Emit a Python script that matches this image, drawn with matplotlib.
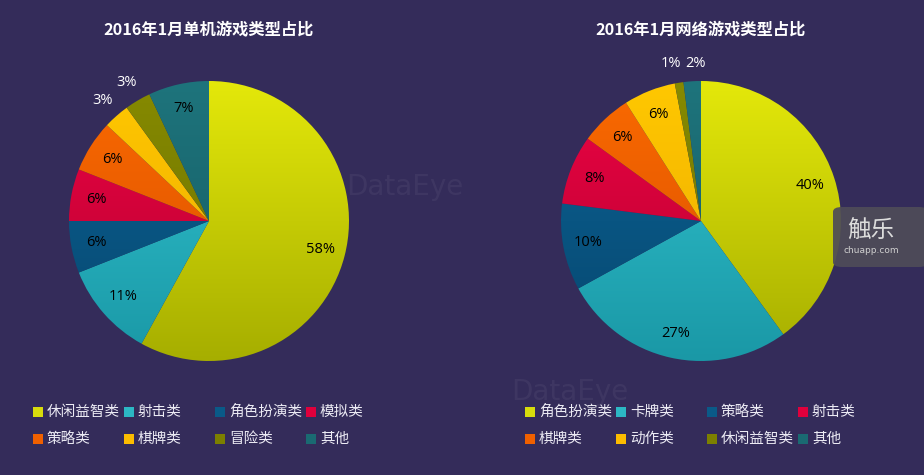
import matplotlib
matplotlib.use("Agg")
import matplotlib.pyplot as plt
import numpy as np
from matplotlib.colors import LinearSegmentedColormap
from matplotlib.patches import Rectangle, FancyBboxPatch

plt.rcParams['font.family'] = ['Noto Sans CJK SC', 'DejaVu Sans']

BG = '#342c5a'

title_left = '2016年1月单机游戏类型占比'
cats_left = ['休闲益智类', '射击类', '角色扮演类', '模拟类', '策略类', '棋牌类', '冒险类', '其他']
vals_left = [58, 11, 6, 6, 6, 3, 3, 7]

title_right = '2016年1月网络游戏类型占比'
cats_right = ['角色扮演类', '卡牌类', '策略类', '射击类', '棋牌类', '动作类', '休闲益智类', '其他']
vals_right = [40, 27, 10, 8, 6, 6, 1, 2]

# (top colour, bottom colour) per slice index
palette = [
    ('#e4e80a', '#a6ae00'),
    ('#32c4d0', '#1a98a6'),
    ('#0c6496', '#06466e'),
    ('#ec0444', '#b4002e'),
    ('#fa6a00', '#d84e00'),
    ('#ffc800', '#eca800'),
    ('#868a00', '#6c7000'),
    ('#1e747c', '#145a62'),
]
flat = ['#d8dc0c', '#2cb8c4', '#0a5a88', '#e0003c', '#f06000', '#fcbc00', '#7c8000', '#1a6a72']

W, H = 924, 475
fig = plt.figure(figsize=(W / 100, H / 100), dpi=100, facecolor=BG)

def px_ax(cx, cy, r):
    return fig.add_axes([(cx - r) / W, (H - cy - r) / H, 2 * r / W, 2 * r / H])

# faint watermarks
for (x, y) in [(405, 187), (570, 392)]:
    fig.text(x / W, 1 - y / H, 'DataEye', color='white', alpha=0.05, fontsize=20,
             ha='center', va='center', family='DejaVu Sans')

def draw_pie(cx, cy, title, cats, vals, legend_x):
    R = 140
    ax = px_ax(cx, cy, R)
    ax.set_facecolor('none')
    wedges, texts = ax.pie(vals, startangle=90, counterclock=False, radius=1,
                           colors=flat, wedgeprops=dict(linewidth=0))
    for i, w in enumerate(wedges):
        cmap = LinearSegmentedColormap.from_list('g', [palette[i][1], palette[i][0]])
        im = ax.imshow(np.linspace(0, 1, 256).reshape(-1, 1), cmap=cmap,
                       extent=[-1, 1, -1, 1], origin='lower', aspect='auto',
                       zorder=w.get_zorder(), vmin=0, vmax=1)
        im.set_clip_path(w)
        w.set_facecolor('none')
    total = sum(vals)
    cum = 0
    outside = []
    for v in vals:
        mid = (cum + v / 2) / total
        ang = np.deg2rad(90 - 360 * mid)
        if v <= 3:
            outside.append([1.15 * np.cos(ang), 1.15 * np.sin(ang), v])
        else:
            ax.text(0.82 * np.cos(ang), 0.82 * np.sin(ang), f'{v}%', ha='center',
                    va='center', color='black', fontsize=10.5, family='Open Sans')
        cum += v
    # spread adjacent outside labels that would collide
    min_gap = 25 / R
    for a, b in zip(outside, outside[1:]):
        if abs(a[0] - b[0]) < min_gap and abs(a[1] - b[1]) < 14 / R:
            m = (a[0] + b[0]) / 2
            a[0], b[0] = m - min_gap / 2, m + min_gap / 2
            y = max(a[1], b[1]) - 3 / R
            a[1] = b[1] = y
    for x, y, v in outside:
        ax.text(x, y, f'{v}%', ha='center', va='center', color='white',
                fontsize=10.5, family='Open Sans')
    ax.set_xlim(-1, 1)
    ax.set_ylim(-1, 1)
    ax.set_aspect('equal')
    ax.axis('off')
    fig.text(cx / W, 1 - 30 / H, title, color='white', fontsize=11.7, fontweight='bold',
             ha='center', va='center')
    # legend
    for i, c in enumerate(cats):
        row, col = divmod(i, 4)
        x = legend_x + col * 91
        y = 412 + row * 27
        fig.patches.append(Rectangle((x / W, 1 - (y + 5) / H), 10 / W, 10 / H,
                                     transform=fig.transFigure, facecolor=flat[i],
                                     edgecolor='none'))
        fig.text((x + 14) / W, 1 - y / H, c, color='#ecebf4', fontsize=10.5,
                 ha='left', va='center')

draw_pie(209, 221, title_left, cats_left, vals_left, 33)
draw_pie(701, 221, title_right, cats_right, vals_right, 525)

# chuapp badge
fig.patches.append(FancyBboxPatch((833 / W, 1 - 267 / H), 95 / W, 60 / H,
                                  boxstyle='round,pad=0,rounding_size=0.01',
                                  transform=fig.transFigure, facecolor='#4e4c58',
                                  edgecolor='none', alpha=0.93))
fig.text(871 / W, 1 - 231 / H, '触乐', color='#dcdcdc', fontsize=17, ha='center', va='center')
fig.text(871 / W, 1 - 251 / H, 'chuapp.com', color='#cfcfcf', fontsize=6.5,
         ha='center', va='center', family='DejaVu Sans')

fig.savefig('out.png', dpi=100, facecolor=BG)
